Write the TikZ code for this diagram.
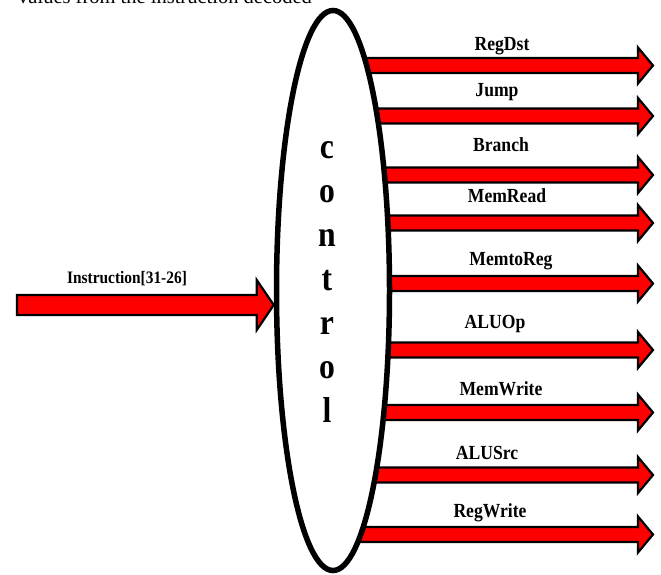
\documentclass[tikz,border=0pt]{standalone}
\usepackage{fontspec}
\setmainfont{Liberation Serif}
\newfontfamily\labfont[FakeStretch=0.88]{Liberation Serif}
\usetikzlibrary{shapes.geometric,calc}
\pgfdeclarelayer{bg}
\pgfsetlayers{bg,main}
\tikzset{
  lab/.style={font=\labfont\bfseries\fontsize{20}{20}\selectfont, inner sep=0pt, anchor=base},
  block/.style={draw=black, line width=2.2pt, fill=red, line join=miter},
  % block arrow: shaft half-height 7.5, head half-height 18, head length 15
  outarrow/.style={block, to path={let \p1=(\tikztostart), \p2=(\tikztotarget) in
      (\x1,\y2+7.5pt) -- (\x2-15pt,\y2+7.5pt) -- (\x2-15pt,\y2+18pt) -- (\p2)
      -- (\x2-15pt,\y2-18pt) -- (\x2-15pt,\y2-7.5pt) -- (\x1,\y2-7.5pt) -- cycle}},
  % wider block arrow for the input
  inarrow/.style={block, to path={let \p1=(\tikztostart), \p2=(\tikztotarget) in
      (\x1,\y2+10pt) -- (\x2-17pt,\y2+10pt) -- (\x2-17pt,\y2+25pt) -- (\p2)
      -- (\x2-17pt,\y2-25pt) -- (\x2-17pt,\y2-10pt) -- (\x1,\y2-10pt) -- cycle}},
}
\begin{document}
\begin{tikzpicture}[x=1pt,y=-1pt]
\useasboundingbox (0,0) rectangle (661,574);
\clip (0,0) rectangle (661,574);

% caption line above the figure
\node[anchor=base west, inner sep=0pt, font=\fontsize{20.5}{20}\selectfont] (cap) at (18,3.5)
  {values from the instruction decoded};

% control unit
\node[ellipse, draw=black, line width=5.5pt, fill=white, inner sep=0pt,
      minimum width=113pt, minimum height=560pt] (ctl) at (333,290.5) {};
\foreach \i/\c in {0/c,1/o,2/n,3/t,4/r,5/o,6/l}
  \node[lab, font=\labfont\bfseries\fontsize{36}{36}\selectfont] (ch\i) at (327,158+44*\i) {\c};

% input
\coordinate (inp) at (17,305);
\coordinate (inend) at (ctl.west |- inp);
\node[lab, font=\labfont\bfseries\fontsize{17.5}{17.5}\selectfont] (inlab) at (127,283) {Instruction[31-26]};
\begin{pgfonlayer}{bg}
  \draw[inarrow] (inp) to (inend);
\end{pgfonlayer}

% control signals
\foreach \k/\yy/\t/\lx/\ly in {
  1/65.5/RegDst/502/50.7,
  2/116/Jump/497/96.7,
  3/175/Branch/501/151,
  4/223/MemRead/507/202.7,
  5/283.5/MemtoReg/511/265,
  6/350/ALUOp/495/328,
  7/412.5/MemWrite/501/395,
  8/475/ALUSrc/487/459,
  9/534.5/RegWrite/490/517}
{
  \coordinate (tip\k) at (653,\yy);
  \coordinate (root\k) at (ctl.center |- tip\k);
  \node[lab] (sig\k) at (\lx,\ly) {\t};
  \begin{pgfonlayer}{bg}
    \draw[outarrow] (root\k) to (tip\k);
  \end{pgfonlayer}
}
\end{tikzpicture}
\end{document}
